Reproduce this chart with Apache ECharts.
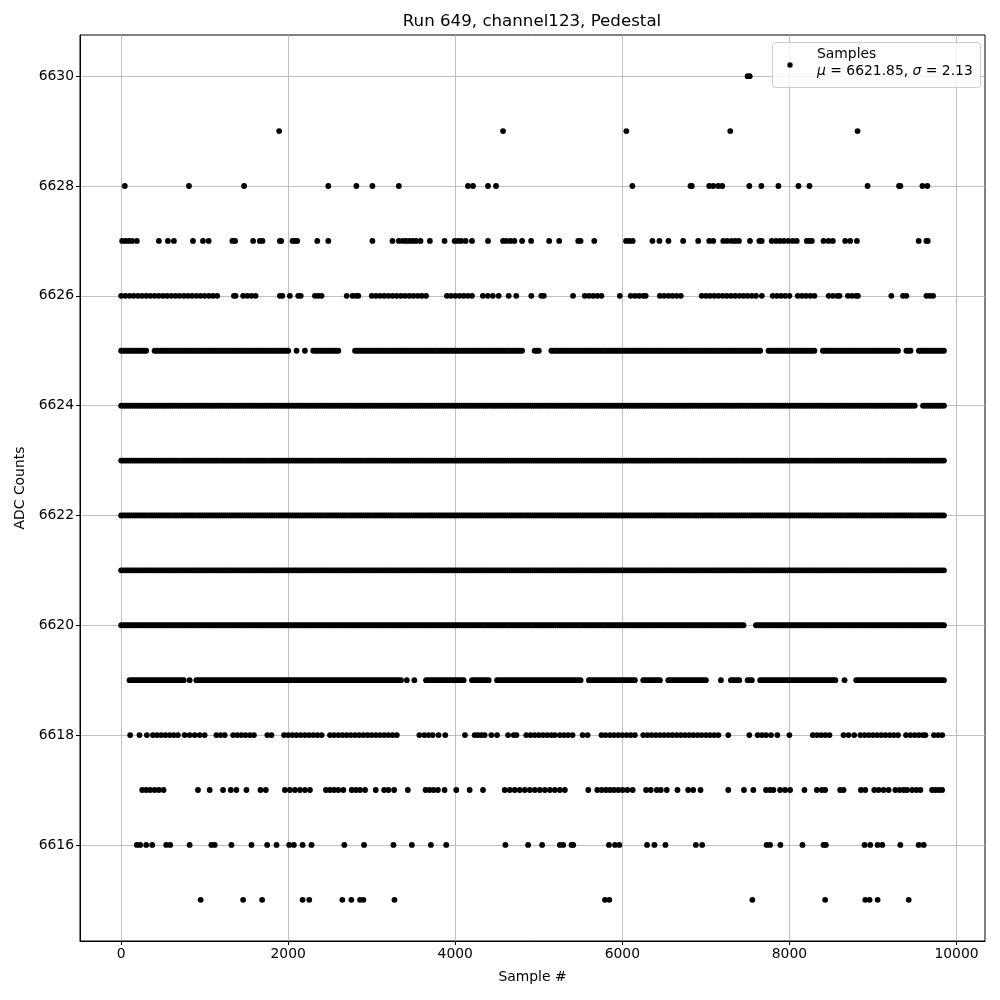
<!DOCTYPE html>
<html><head><meta charset="utf-8">
<script src="https://cdn.jsdelivr.net/npm/echarts@6/dist/echarts.min.js"></script>
<style>html,body{margin:0;padding:0;background:#fff}#c{width:1000px;height:1000px}</style>
</head><body><div id="c"></div>
<script>
const titleText = 'Run 649, channel123, Pedestal';
const xTicks = [0, 2000, 4000, 6000, 8000, 10000];
const yTicks = [6616, 6618, 6620, 6622, 6624, 6626, 6628, 6630];

// x positions (sample #) of points, one list per ADC level
const x6630 = [7500, 7525];
const x6629 = [1892, 4572, 6048, 7292, 8816];
const x6628 = [44, 812, 1472, 2480, 2816, 3008, 3324, 4152, 4212, 4392, 4488, 6120, 6816, 6832, 7040, 7088, 7148, 7196, 7520, 7664, 7868, 8108, 8240, 8936, 9312, 9328, 9592, 9652];
const x6627 = [12, 52, 92, 132, 188, 452, 560, 632, 860, 980, 1048, 1332, 1364, 1580, 1660, 1692, 1900, 1916, 2052, 2084, 2108, 2348, 2480, 3008, 3248, 3324, 3372, 3412, 3452, 3492, 3532, 3584, 3696, 3872, 3992, 4032, 4072, 4124, 4200, 4392, 4572, 4612, 4660, 4708, 4800, 4908, 5124, 5244, 5472, 5500, 5664, 6044, 6084, 6124, 6360, 6444, 6552, 6728, 6908, 7040, 7088, 7208, 7256, 7308, 7352, 7396, 7528, 7640, 7668, 7788, 7840, 7888, 7936, 7988, 8040, 8088, 8208, 8240, 8268, 8408, 8468, 8520, 8668, 8728, 8808, 9548, 9640, 9656];
const x6626 = [0,50,100,150,200,250,300,350,400,450,500,550,600,650,700,750,800,850,900,950,1000,1050,1100,1150,
  1350,1370,1460,1510,1560,1610,1900,1930,2020,2120,2150,2320,2360,2400,2700,2770,2810,2840,
  3000,3050,3100,3150,3200,3250,3300,3350,3400,3450,3500,3550,3600,3650,
  3900,3950,4000,4050,4100,4150,4200,
  4330,4390,4450,4520,4640,4730,4910,5030,5060,5410,
  5550,5600,5650,5700,5750,5970,
  6100,6150,6200,6250,6280,
  6450,6500,6550,6600,6650,6700,
  6950,7000,7050,7100,7150,7200,7250,7300,7350,7400,7450,7500,7550,7600,
  7670,7800,7850,7900,7950,8000,8100,8150,8200,8250,8300,
  8470,8520,8570,8600,8700,8750,8800,8820,9220,9360,9400,9640,9680,9720];
const x6625 = [0,25,50,75,100,125,150,175,200,225,250,275,300,
  400,425,450,475,500,525,550,575,600,625,650,675,700,725,750,775,800,825,850,875,900,925,950,975,
  1000,1025,1050,1075,1100,1125,1150,1175,1200,1225,1250,1275,1300,1325,1350,1375,1400,1425,1450,1475,1500,1525,1550,1575,1600,1625,1650,1675,1700,1725,1750,1775,1800,1825,1850,1875,1900,1925,1950,1975,2000,
  2100,2200,
  2300,2325,2350,2375,2400,2425,2450,2475,2500,2525,2550,2575,2600,
  2800,2825,2850,2875,2900,2925,2950,2975,
  3000,3025,3050,3075,3100,3125,3150,3175,3200,3225,3250,3275,3300,3325,3350,3375,3400,3425,3450,3475,3500,3525,3550,3575,3600,3625,3650,3675,3700,3725,3750,3775,3800,3825,3850,3875,3900,3925,3950,3975,
  4000,4025,4050,4075,4100,4125,4150,4175,4200,4225,4250,4275,4300,4325,4350,4375,4400,4425,4450,4475,4500,4525,4550,4575,4600,4625,4650,4675,4700,4725,4750,4775,4800,
  4950,4975,5000,
  5150,5175,5200,5225,5250,5275,5300,5325,5350,5375,5400,5425,5450,5475,5500,5525,5550,5575,5600,5625,5650,5675,5700,5725,5750,5775,5800,5825,5850,5875,5900,5925,5950,5975,
  6000,6025,6050,6075,6100,6125,6150,6175,6200,6225,6250,6275,6300,6325,6350,6375,6400,6425,6450,6475,6500,6525,6550,6575,6600,6625,6650,6675,6700,6725,6750,6775,6800,6825,6850,6875,6900,6925,6950,6975,
  7000,7025,7050,7075,7100,7125,7150,7175,7200,7225,7250,7275,7300,7325,7350,7375,7400,7425,7450,7475,7500,7525,7550,7575,7600,7625,7650,
  7750,7775,7800,7825,7850,7875,7900,7925,7950,7975,8000,8025,8050,8075,8100,8125,8150,8175,8200,8225,8250,8275,8300,
  8400,8425,8450,8475,8500,8525,8550,8575,8600,8625,8650,8675,8700,8725,8750,8775,8800,8825,8850,8875,8900,8925,8950,8975,9000,9025,9050,9075,9100,9125,9150,9175,9200,9225,9250,9275,9300,
  9400,9425,9450,
  9550,9575,9600,9625,9650,9675,9700,9725,9750,9775,9800,9825,9850];
const x6624 = [0,25,50,75,100,125,150,175,200,225,250,275,300,325,350,375,400,425,450,475,500,525,550,575,600,625,650,675,700,725,750,775,800,825,850,875,900,925,950,975,
  1000,1025,1050,1075,1100,1125,1150,1175,1200,1225,1250,1275,1300,1325,1350,1375,1400,1425,1450,1475,1500,1525,1550,1575,1600,1625,1650,1675,1700,1725,1750,1775,1800,1825,1850,1875,1900,1925,1950,1975,
  2000,2025,2050,2075,2100,2125,2150,2175,2200,2225,2250,2275,2300,2325,2350,2375,2400,2425,2450,2475,2500,2525,2550,2575,2600,2625,2650,2675,2700,2725,2750,2775,2800,2825,2850,2875,2900,2925,2950,2975,
  3000,3025,3050,3075,3100,3125,3150,3175,3200,3225,3250,3275,3300,3325,3350,3375,3400,3425,3450,3475,3500,3525,3550,3575,3600,3625,3650,3675,3700,3725,3750,3775,3800,3825,3850,3875,3900,3925,3950,3975,
  4000,4025,4050,4075,4100,4125,4150,4175,4200,4225,4250,4275,4300,4325,4350,4375,4400,4425,4450,4475,4500,4525,4550,4575,4600,4625,4650,4675,4700,4725,4750,4775,4800,4825,4850,4875,4900,4925,4950,4975,
  5000,5025,5050,5075,5100,5125,5150,5175,5200,5225,5250,5275,5300,5325,5350,5375,5400,5425,5450,5475,5500,5525,5550,5575,5600,5625,5650,5675,5700,5725,5750,5775,5800,5825,5850,5875,5900,5925,5950,5975,
  6000,6025,6050,6075,6100,6125,6150,6175,6200,6225,6250,6275,6300,6325,6350,6375,6400,6425,6450,6475,6500,6525,6550,6575,6600,6625,6650,6675,6700,6725,6750,6775,6800,6825,6850,6875,6900,6925,6950,6975,
  7000,7025,7050,7075,7100,7125,7150,7175,7200,7225,7250,7275,7300,7325,7350,7375,7400,7425,7450,7475,7500,7525,7550,7575,7600,7625,7650,7675,7700,7725,7750,7775,7800,7825,7850,7875,7900,7925,7950,7975,
  8000,8025,8050,8075,8100,8125,8150,8175,8200,8225,8250,8275,8300,8325,8350,8375,8400,8425,8450,8475,8500,8525,8550,8575,8600,8625,8650,8675,8700,8725,8750,8775,8800,8825,8850,8875,8900,8925,8950,8975,
  9000,9025,9050,9075,9100,9125,9150,9175,9200,9225,9250,9275,9300,9325,9350,9375,9400,9425,9450,9475,9500,
  9600,9625,9650,9675,9700,9725,9750,9775,9800,9825,9850];
const x6623 = [0,25,50,75,100,125,150,175,200,225,250,275,300,325,350,375,400,425,450,475,500,525,550,575,600,625,650,675,700,725,750,775,800,825,850,875,900,925,950,975,
  1000,1025,1050,1075,1100,1125,1150,1175,1200,1225,1250,1275,1300,1325,1350,1375,1400,1425,1450,1475,1500,1525,1550,1575,1600,1625,1650,1675,1700,1725,1750,1775,1800,1825,1850,1875,1900,1925,1950,1975,
  2000,2025,2050,2075,2100,2125,2150,2175,2200,2225,2250,2275,2300,2325,2350,2375,2400,2425,2450,2475,2500,2525,2550,2575,2600,2625,2650,2675,2700,2725,2750,2775,2800,2825,2850,2875,2900,2925,2950,2975,
  3000,3025,3050,3075,3100,3125,3150,3175,3200,3225,3250,3275,3300,3325,3350,3375,3400,3425,3450,3475,3500,3525,3550,3575,3600,3625,3650,3675,3700,3725,3750,3775,3800,3825,3850,3875,3900,3925,3950,3975,
  4000,4025,4050,4075,4100,4125,4150,4175,4200,4225,4250,4275,4300,4325,4350,4375,4400,4425,4450,4475,4500,4525,4550,4575,4600,4625,4650,4675,4700,4725,4750,4775,4800,4825,4850,4875,4900,4925,4950,4975,
  5000,5025,5050,5075,5100,5125,5150,5175,5200,5225,5250,5275,5300,5325,5350,5375,5400,5425,5450,5475,5500,5525,5550,5575,5600,5625,5650,5675,5700,5725,5750,5775,5800,5825,5850,5875,5900,5925,5950,5975,
  6000,6025,6050,6075,6100,6125,6150,6175,6200,6225,6250,6275,6300,6325,6350,6375,6400,6425,6450,6475,6500,6525,6550,6575,6600,6625,6650,6675,6700,6725,6750,6775,6800,6825,6850,6875,6900,6925,6950,6975,
  7000,7025,7050,7075,7100,7125,7150,7175,7200,7225,7250,7275,7300,7325,7350,7375,7400,7425,7450,7475,7500,7525,7550,7575,7600,7625,7650,7675,7700,7725,7750,7775,7800,7825,7850,7875,7900,7925,7950,7975,
  8000,8025,8050,8075,8100,8125,8150,8175,8200,8225,8250,8275,8300,8325,8350,8375,8400,8425,8450,8475,8500,8525,8550,8575,8600,8625,8650,8675,8700,8725,8750,8775,8800,8825,8850,8875,8900,8925,8950,8975,
  9000,9025,9050,9075,9100,9125,9150,9175,9200,9225,9250,9275,9300,9325,9350,9375,9400,9425,9450,9475,9500,9525,9550,9575,9600,9625,9650,9675,9700,9725,9750,9775,9800,9825,9850];
const x6622 = [0,25,50,75,100,125,150,175,200,225,250,275,300,325,350,375,400,425,450,475,500,525,550,575,600,625,650,675,700,725,750,775,800,825,850,875,900,925,950,975,
  1000,1025,1050,1075,1100,1125,1150,1175,1200,1225,1250,1275,1300,1325,1350,1375,1400,1425,1450,1475,1500,1525,1550,1575,1600,1625,1650,1675,1700,1725,1750,1775,1800,1825,1850,1875,1900,1925,1950,1975,
  2000,2025,2050,2075,2100,2125,2150,2175,2200,2225,2250,2275,2300,2325,2350,2375,2400,2425,2450,2475,2500,2525,2550,2575,2600,2625,2650,2675,2700,2725,2750,2775,2800,2825,2850,2875,2900,2925,2950,2975,
  3000,3025,3050,3075,3100,3125,3150,3175,3200,3225,3250,3275,3300,3325,3350,3375,3400,3425,3450,3475,3500,3525,3550,3575,3600,3625,3650,3675,3700,3725,3750,3775,3800,3825,3850,3875,3900,3925,3950,3975,
  4000,4025,4050,4075,4100,4125,4150,4175,4200,4225,4250,4275,4300,4325,4350,4375,4400,4425,4450,4475,4500,4525,4550,4575,4600,4625,4650,4675,4700,4725,4750,4775,4800,4825,4850,4875,4900,4925,4950,4975,
  5000,5025,5050,5075,5100,5125,5150,5175,5200,5225,5250,5275,5300,5325,5350,5375,5400,5425,5450,5475,5500,5525,5550,5575,5600,5625,5650,5675,5700,5725,5750,5775,5800,5825,5850,5875,5900,5925,5950,5975,
  6000,6025,6050,6075,6100,6125,6150,6175,6200,6225,6250,6275,6300,6325,6350,6375,6400,6425,6450,6475,6500,6525,6550,6575,6600,6625,6650,6675,6700,6725,6750,6775,6800,6825,6850,6875,6900,6925,6950,6975,
  7000,7025,7050,7075,7100,7125,7150,7175,7200,7225,7250,7275,7300,7325,7350,7375,7400,7425,7450,7475,7500,7525,7550,7575,7600,7625,7650,7675,7700,7725,7750,7775,7800,7825,7850,7875,7900,7925,7950,7975,
  8000,8025,8050,8075,8100,8125,8150,8175,8200,8225,8250,8275,8300,8325,8350,8375,8400,8425,8450,8475,8500,8525,8550,8575,8600,8625,8650,8675,8700,8725,8750,8775,8800,8825,8850,8875,8900,8925,8950,8975,
  9000,9025,9050,9075,9100,9125,9150,9175,9200,9225,9250,9275,9300,9325,9350,9375,9400,9425,9450,9475,9500,9525,9550,9575,9600,9625,9650,9675,9700,9725,9750,9775,9800,9825,9850];
const x6621 = [0,25,50,75,100,125,150,175,200,225,250,275,300,325,350,375,400,425,450,475,500,525,550,575,600,625,650,675,700,725,750,775,800,825,850,875,900,925,950,975,
  1000,1025,1050,1075,1100,1125,1150,1175,1200,1225,1250,1275,1300,1325,1350,1375,1400,1425,1450,1475,1500,1525,1550,1575,1600,1625,1650,1675,1700,1725,1750,1775,1800,1825,1850,1875,1900,1925,1950,1975,
  2000,2025,2050,2075,2100,2125,2150,2175,2200,2225,2250,2275,2300,2325,2350,2375,2400,2425,2450,2475,2500,2525,2550,2575,2600,2625,2650,2675,2700,2725,2750,2775,2800,2825,2850,2875,2900,2925,2950,2975,
  3000,3025,3050,3075,3100,3125,3150,3175,3200,3225,3250,3275,3300,3325,3350,3375,3400,3425,3450,3475,3500,3525,3550,3575,3600,3625,3650,3675,3700,3725,3750,3775,3800,3825,3850,3875,3900,3925,3950,3975,
  4000,4025,4050,4075,4100,4125,4150,4175,4200,4225,4250,4275,4300,4325,4350,4375,4400,4425,4450,4475,4500,4525,4550,4575,4600,4625,4650,4675,4700,4725,4750,4775,4800,4825,4850,4875,4900,4925,4950,4975,
  5000,5025,5050,5075,5100,5125,5150,5175,5200,5225,5250,5275,5300,5325,5350,5375,5400,5425,5450,5475,5500,5525,5550,5575,5600,5625,5650,5675,5700,5725,5750,5775,5800,5825,5850,5875,5900,5925,5950,5975,
  6000,6025,6050,6075,6100,6125,6150,6175,6200,6225,6250,6275,6300,6325,6350,6375,6400,6425,6450,6475,6500,6525,6550,6575,6600,6625,6650,6675,6700,6725,6750,6775,6800,6825,6850,6875,6900,6925,6950,6975,
  7000,7025,7050,7075,7100,7125,7150,7175,7200,7225,7250,7275,7300,7325,7350,7375,7400,7425,7450,7475,7500,7525,7550,7575,7600,7625,7650,7675,7700,7725,7750,7775,7800,7825,7850,7875,7900,7925,7950,7975,
  8000,8025,8050,8075,8100,8125,8150,8175,8200,8225,8250,8275,8300,8325,8350,8375,8400,8425,8450,8475,8500,8525,8550,8575,8600,8625,8650,8675,8700,8725,8750,8775,8800,8825,8850,8875,8900,8925,8950,8975,
  9000,9025,9050,9075,9100,9125,9150,9175,9200,9225,9250,9275,9300,9325,9350,9375,9400,9425,9450,9475,9500,9525,9550,9575,9600,9625,9650,9675,9700,9725,9750,9775,9800,9825,9850];
const x6620 = [0,25,50,75,100,125,150,175,200,225,250,275,300,325,350,375,400,425,450,475,500,525,550,575,600,625,650,675,700,725,750,775,800,825,850,875,900,925,950,975,
  1000,1025,1050,1075,1100,1125,1150,1175,1200,1225,1250,1275,1300,1325,1350,1375,1400,1425,1450,1475,1500,1525,1550,1575,1600,1625,1650,1675,1700,1725,1750,1775,1800,1825,1850,1875,1900,1925,1950,1975,
  2000,2025,2050,2075,2100,2125,2150,2175,2200,2225,2250,2275,2300,2325,2350,2375,2400,2425,2450,2475,2500,2525,2550,2575,2600,2625,2650,2675,2700,2725,2750,2775,2800,2825,2850,2875,2900,2925,2950,2975,
  3000,3025,3050,3075,3100,3125,3150,3175,3200,3225,3250,3275,3300,3325,3350,3375,3400,3425,3450,3475,3500,3525,3550,3575,3600,3625,3650,3675,3700,3725,3750,3775,3800,3825,3850,3875,3900,3925,3950,3975,
  4000,4025,4050,4075,4100,4125,4150,4175,4200,4225,4250,4275,4300,4325,4350,4375,4400,4425,4450,4475,4500,4525,4550,4575,4600,4625,4650,4675,4700,4725,4750,4775,4800,4825,4850,4875,4900,4925,4950,4975,
  5000,5025,5050,5075,5100,5125,5150,5175,5200,5225,5250,5275,5300,5325,5350,5375,5400,5425,5450,5475,5500,5525,5550,5575,5600,5625,5650,5675,5700,5725,5750,5775,5800,5825,5850,5875,5900,5925,5950,5975,
  6000,6025,6050,6075,6100,6125,6150,6175,6200,6225,6250,6275,6300,6325,6350,6375,6400,6425,6450,6475,6500,6525,6550,6575,6600,6625,6650,6675,6700,6725,6750,6775,6800,6825,6850,6875,6900,6925,6950,6975,
  7000,7025,7050,7075,7100,7125,7150,7175,7200,7225,7250,7275,7300,7325,7350,7375,7400,7425,7450,
  7600,7625,7650,7675,7700,7725,7750,7775,7800,7825,7850,7875,7900,7925,7950,7975,
  8000,8025,8050,8075,8100,8125,8150,8175,8200,8225,8250,8275,8300,8325,8350,8375,8400,8425,8450,8475,8500,8525,8550,8575,8600,8625,8650,8675,8700,8725,8750,8775,8800,8825,8850,8875,8900,8925,8950,8975,
  9000,9025,9050,9075,9100,9125,9150,9175,9200,9225,9250,9275,9300,9325,9350,9375,9400,9425,9450,9475,9500,9525,9550,9575,9600,9625,9650,9675,9700,9725,9750,9775,9800,9825,9850];
const x6619 = [100,125,150,175,200,225,250,275,300,325,350,375,400,425,450,475,500,525,550,575,600,625,650,675,700,725,750,820,
  900,925,950,975,
  1000,1025,1050,1075,1100,1125,1150,1175,1200,1225,1250,1275,1300,1325,1350,1375,1400,1425,1450,1475,1500,1525,1550,1575,1600,1625,1650,1675,1700,1725,1750,1775,1800,1825,1850,1875,1900,1925,1950,1975,
  2000,2025,2050,2075,2100,2125,2150,2175,2200,2225,2250,2275,2300,2325,2350,2375,2400,2425,2450,2475,2500,2525,2550,2575,2600,2625,2650,2675,2700,2725,2750,2775,2800,2825,2850,2875,2900,2925,2950,2975,
  3000,3025,3050,3075,3100,3125,3150,3175,3200,3225,3250,3275,3300,3325,3350,3420,3510,
  3650,3675,3700,3725,3750,3775,3800,3825,3850,3875,3900,3925,3950,3975,4000,4025,4050,4075,4100,
  4200,4225,4250,4275,4300,4325,4350,4375,4400,
  4500,4525,4550,4575,4600,4625,4650,4675,4700,4725,4750,4775,4800,4825,4850,4875,4900,4925,4950,4975,
  5000,5025,5050,5075,5100,5125,5150,5175,5200,5225,5250,5275,5300,5325,5350,5375,5400,5425,5450,5475,5500,
  5600,5625,5650,5675,5700,5725,5750,5775,5800,5825,5850,5875,5900,5925,5950,5975,6000,6025,6050,6075,6100,6125,6150,
  6250,6275,6300,6325,6350,6375,6400,6425,6450,
  6550,6575,6600,6625,6650,6675,6700,6725,6750,6775,6800,6825,6850,6875,6900,6925,6950,6975,7000,
  7180,7300,7325,7350,7375,7400,7500,7525,7550,
  7650,7675,7700,7725,7750,7775,7800,7825,7850,7875,7900,7925,7950,7975,8000,8025,8050,8075,8100,8125,8150,8175,8200,8225,8250,8275,8300,8325,8350,8375,8400,8425,8450,8475,8500,8525,8550,
  8660,
  8800,8825,8850,8875,8900,8925,8950,8975,9000,9025,9050,9075,9100,9125,9150,9175,9200,9225,9250,9275,9300,9325,9350,9375,9400,9425,9450,9475,9500,9525,9550,9575,9600,9625,9650,9675,9700,9725,9750,9775,9800,9825,9850];
const x6618 = [108,220,308,380,430,480,530,580,630,680,760,820,880,940,1000,1140,1190,1240,1340,1390,1440,1490,1540,1590,1750,1800,
  1950,2000,2050,2100,2150,2200,2250,2300,2350,2400,
  2500,2550,2600,2650,2700,2750,2800,2850,2900,2950,3000,3050,3100,3150,3200,3250,3300,
  3570,3630,3680,3730,3800,3880,4116,4232,4272,4312,4352,4432,4500,4632,4700,4732,
  4850,4900,4950,5000,5050,5100,5150,5192,5252,5300,5350,5404,5524,5584,
  5750,5800,5850,5900,5950,6000,6050,6100,6150,
  6250,6300,6350,6400,6450,6500,6550,6600,6650,6700,6750,6800,6850,6900,6950,7000,7050,7100,7150,
  7268,7520,7620,7670,7720,7780,7856,8000,8280,8330,8380,8430,8480,8648,8708,8776,
  8850,8900,8950,9000,9050,9100,9150,9200,9250,9300,
  9396,9450,9500,9550,9600,9628,9730,9780,9830];
const x6617 = [252,300,348,400,452,508,920,1060,1220,1312,1380,1500,1668,1732,1960,2020,2080,2140,2200,2260,2452,2500,2550,2600,2660,2760,2810,2860,2920,3048,3148,3200,3268,3432,3644,3692,3740,3792,3872,4012,4172,4332,4592,4652,4712,4772,4832,4892,4952,5012,5072,5132,5192,5252,5312,5592,5700,5752,5804,5852,5900,5952,6004,6060,6124,6284,6340,6412,6460,6532,6660,6788,6848,6936,7268,7456,7568,7720,7768,7808,7888,7948,8008,8180,8328,8388,8428,8608,8648,8856,8908,9016,9068,9128,9188,9268,9320,9368,9408,9468,9520,9568,9708,9748,9788,9828];
const x6616 = [188,228,300,372,540,588,820,1080,1120,1320,1560,1748,1860,2012,2068,2172,2280,2672,2908,3260,3480,3708,3892,4600,4872,5040,5252,5292,5392,5412,5840,5912,5964,6296,6384,6516,6880,6956,7728,7768,7892,8156,8408,8436,8900,8968,9056,9112,9328,9548,9608];
const x6615 = [952,1460,1688,2172,2252,2648,2756,2860,2900,3272,5792,5844,7556,8428,8908,8960,9056,9428];

const levels = [6630,6629,6628,6627,6626,6625,6624,6623,6622,6621,6620,6619,6618,6617,6616,6615];
const xsByLevel = [x6630,x6629,x6628,x6627,x6626,x6625,x6624,x6623,x6622,x6621,x6620,x6619,x6618,x6617,x6616,x6615];

const points = [];
levels.forEach((lv, i) => xsByLevel[i].forEach(x => points.push([x, lv])));

const FONT = 'DejaVu Sans';
const chart = echarts.init(document.getElementById('c'), null, {renderer: 'canvas'});
chart.setOption({
  animation: false,
  backgroundColor: '#fff',
  title: {
    text: titleText, left: 532, top: 13, padding: 0, textAlign: 'center',
    textStyle: {fontFamily: FONT, fontSize: 16.67, fontWeight: 'normal', color: '#000'}
  },
  grid: {left: 80, right: 15, top: 35, bottom: 59, containLabel: false, outerBoundsMode: 'none',
    show: true, borderColor: '#000', borderWidth: 1, backgroundColor: 'transparent'},
  xAxis: {
    type: 'value', min: -492.45, max: 10341.45,
    axisLine: {show: true, onZero: false, lineStyle: {color: '#000', width: 1}},
    axisTick: {show: true, customValues: xTicks, length: 4, lineStyle: {color: '#000'}},
    axisLabel: {customValues: xTicks, color: '#000', fontFamily: FONT, fontSize: 13.9, margin: 6,
      formatter: v => String(v)},
    splitLine: {show: true, lineStyle: {color: '#b0b0b0', width: 0.8}},
    name: 'Sample #', nameLocation: 'middle', nameGap: 29,
    nameTextStyle: {fontFamily: FONT, fontSize: 13.9, color: '#000'}
  },
  yAxis: {
    type: 'value', min: 6614.25, max: 6630.75,
    axisLine: {show: true, onZero: false, lineStyle: {color: '#000', width: 1}},
    axisTick: {show: true, customValues: yTicks, length: 4, lineStyle: {color: '#000'}},
    axisLabel: {customValues: yTicks, color: '#000', fontFamily: FONT, fontSize: 13.9, margin: 6,
      formatter: v => String(v)},
    splitLine: {show: true, lineStyle: {color: '#b0b0b0', width: 0.8}},
    name: 'ADC Counts', nameLocation: 'middle', nameGap: 52, nameRotate: 90,
    nameTextStyle: {fontFamily: FONT, fontSize: 13.9, color: '#000'}
  },
  series: [{
    name: 'Samples', type: 'scatter', data: points, symbol: 'circle', symbolSize: 5.8,
    itemStyle: {color: '#000', opacity: 1}, progressive: 0, z: 5, silent: true
  }],
  graphic: [
    {type: 'rect', shape: {x: 772.5, y: 42.5, width: 208, height: 45, r: 3},
      style: {fill: 'rgba(255,255,255,0.8)', stroke: '#cccccc', lineWidth: 1}, z: 100},
    {type: 'circle', shape: {cx: 790, cy: 65, r: 2.7}, style: {fill: '#000'}, z: 101},
    {type: 'text', x: 817, y: 54, z: 101,
      style: {text: 'Samples', fontFamily: FONT, fontSize: 13.9, fill: '#000', verticalAlign: 'middle'}},
    {type: 'text', x: 817, y: 71, z: 101,
      style: {text: '{i|μ} = 6621.85, {i|σ} = 2.13', fontFamily: FONT, fontSize: 13.9, fill: '#000',
        verticalAlign: 'middle',
        rich: {i: {fontStyle: 'italic', fontFamily: FONT, fontSize: 13.9, fill: '#000'}}}}
  ]
});
</script>
</body></html>
